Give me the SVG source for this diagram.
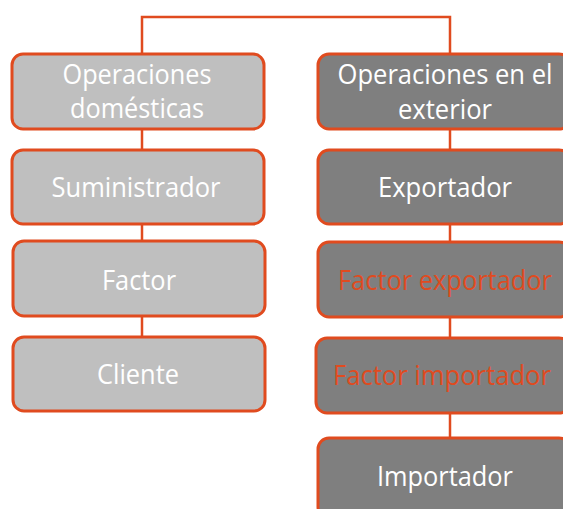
<svg xmlns="http://www.w3.org/2000/svg" width="563" height="509" viewBox="0 0 563 509">
<style>
.box{stroke:#E04B1F;stroke-width:3}
.l{fill:#BFBFBF}
.r{fill:#7F7F7F}
.t{font-family:"Open Sans","Noto Sans",sans-serif;font-size:27px;text-anchor:middle;fill:#FFFFFF}
.red{fill:#E04B1F}
.c{fill:none;stroke:#E04B1F;stroke-width:2.5}
</style>
<rect width="563" height="509" fill="#FFFFFF"/>
<g id="connectors">
<polyline class="c" points="142,54 142,17 450,17 450,54"/>
<line class="c" x1="142" y1="129" x2="142" y2="150"/>
<line class="c" x1="142" y1="224" x2="142" y2="241"/>
<line class="c" x1="142" y1="316" x2="142" y2="337"/>
<line class="c" x1="450" y1="129" x2="450" y2="150"/>
<line class="c" x1="450" y1="224" x2="450" y2="242"/>
<line class="c" x1="450" y1="317" x2="450" y2="338"/>
<line class="c" x1="450" y1="413" x2="450" y2="438"/>
</g>
<g id="n1">
<rect class="box l" x="12" y="54" width="252" height="75" rx="11"/>
<text class="t" x="137" y="84" textLength="149" lengthAdjust="spacingAndGlyphs">Operaciones</text>
<text class="t" x="137" y="118" textLength="134" lengthAdjust="spacingAndGlyphs">domésticas</text>
</g>
<g id="n2">
<rect class="box l" x="12" y="150" width="252" height="74" rx="11"/>
<text class="t" x="136" y="197" textLength="169" lengthAdjust="spacingAndGlyphs">Suministrador</text>
</g>
<g id="n3">
<rect class="box l" x="13" y="241" width="252" height="75" rx="11"/>
<text class="t" x="139" y="290" textLength="74" lengthAdjust="spacingAndGlyphs">Factor</text>
</g>
<g id="n4">
<rect class="box l" x="13" y="337" width="252" height="74" rx="11"/>
<text class="t" x="138" y="384" textLength="82" lengthAdjust="spacingAndGlyphs">Cliente</text>
</g>
<g id="n5">
<rect class="box r" x="318" y="54" width="252" height="75" rx="11"/>
<text class="t" x="445" y="84" textLength="215" lengthAdjust="spacingAndGlyphs">Operaciones en el</text>
<text class="t" x="445" y="119" textLength="94" lengthAdjust="spacingAndGlyphs">exterior</text>
</g>
<g id="n6">
<rect class="box r" x="318" y="150" width="252" height="74" rx="11"/>
<text class="t" x="445" y="197" textLength="134" lengthAdjust="spacingAndGlyphs">Exportador</text>
</g>
<g id="n7">
<rect class="box r" x="318" y="242" width="252" height="75" rx="11"/>
<text class="t red" x="445" y="290" textLength="214" lengthAdjust="spacingAndGlyphs">Factor exportador</text>
</g>
<g id="n8">
<rect class="box r" x="316" y="338" width="254" height="75" rx="11"/>
<text class="t red" x="442" y="385" textLength="218" lengthAdjust="spacingAndGlyphs">Factor importador</text>
</g>
<g id="n9">
<rect class="box r" x="318" y="438" width="252" height="80" rx="11"/>
<text class="t" x="445" y="486" textLength="136" lengthAdjust="spacingAndGlyphs">Importador</text>
</g>
</svg>
